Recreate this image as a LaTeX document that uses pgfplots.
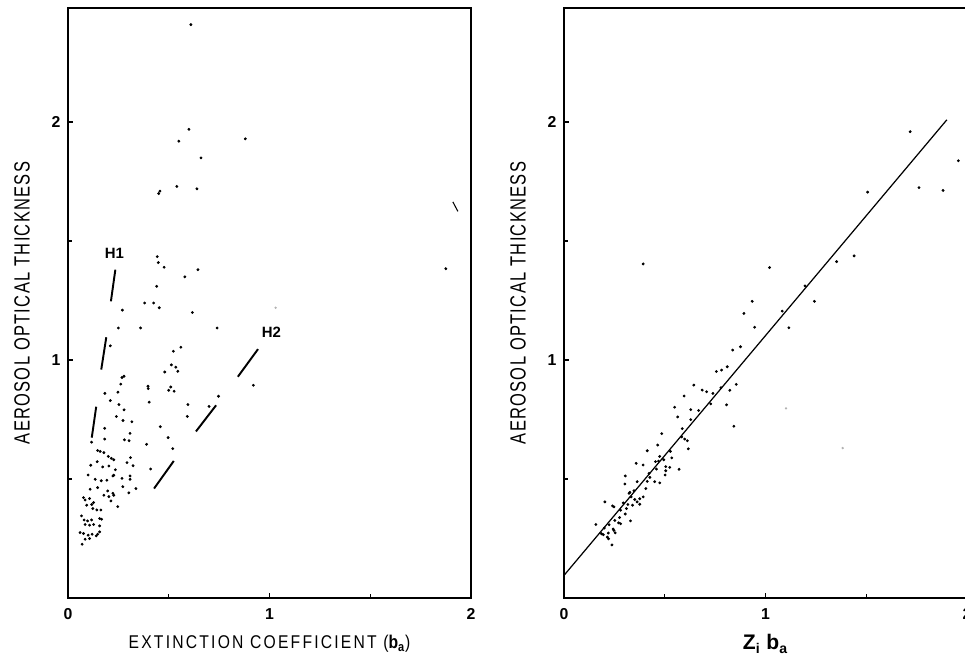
\documentclass[border=0pt]{standalone}
\usepackage{fontspec}
\setmainfont{Liberation Sans}
\newfontfamily\narrowfont[FakeStretch=0.75,LetterSpace=6]{Liberation Sans}
\newfontfamily\labelfont[FakeStretch=0.85,LetterSpace=12]{Liberation Sans}
\usepackage{pgfplots}
\pgfplotsset{compat=1.18}

\pgfplotsset{
  panel/.style={
    scale only axis, width=8.06cm, height=11.8cm,
    xmin=0, xmax=2, ymin=0, ymax=2.48,
    axis line style={line width=0.9pt},
    xtick={0,1,2}, ytick={1,2},
    minor xtick={0.5,1.5}, minor ytick={0.5,1.5},
    tick align=inside, xtick pos=left, ytick pos=left,
    major tick length=0.1cm, minor tick length=0.08cm,
    tick style={line width=0.8pt, black},
    /pgf/number format/assume math mode=true,
    ticklabel style={font=\bfseries\fontsize{9}{10}\selectfont},
    xticklabel style={anchor=center, yshift=-0.32cm},
    yticklabel style={anchor=center, xshift=-0.24cm},
    every axis x label/.style={at={(axis description cs:0.5,0)}, anchor=center, yshift=-0.92cm},
    every axis y label/.style={at={(axis description cs:-0.114,0.5)}, anchor=center, rotate=90},
    ylabel={\narrowfont\fontsize{12.5}{12.5}\selectfont AEROSOL OPTICAL THICKNESS},
  },
  dots/.style={only marks, mark=*, mark size=0.6pt, black},
  dash/.style={black, line width=1.1pt, no marks},
}

\begin{document}
\begin{tikzpicture}
\useasboundingbox (-1.36,-1.24) rectangle (17.94,11.96);
\clip (-1.36,-1.24) rectangle (17.94,11.96);

% left: optical thickness against extinction coefficient
\begin{axis}[panel,
  xlabel={\labelfont\fontsize{10.5}{12}\selectfont EXTINCTION COEFFICIENT ({\bfseries b\textsubscript{a}})}]
\addplot[dots] coordinates {
(0.61,2.41) (0.60,1.97) (0.55,1.92) (0.88,1.93) (0.66,1.85)
(0.456,1.71) (0.45,1.70) (0.54,1.73) (0.64,1.72)
(0.443,1.435) (0.448,1.41) (0.477,1.39) (0.645,1.38) (0.58,1.35) (0.44,1.31)
(0.38,1.24) (0.425,1.24) (0.453,1.22) (0.617,1.20) (0.27,1.21)
(0.25,1.135) (0.36,1.135) (0.74,1.135) (0.21,1.06)
(0.523,1.037) (0.56,1.054)
(0.513,0.98) (0.535,0.97) (0.545,0.953) (0.48,0.95)
(0.268,0.927) (0.278,0.932) (0.262,0.899) (0.183,0.86) (0.248,0.865) (0.21,0.83)
(0.397,0.89) (0.398,0.88) (0.403,0.823)
(0.51,0.887) (0.50,0.873) (0.527,0.869)
(0.595,0.813) (0.592,0.763) (0.70,0.805) (0.747,0.848) (0.92,0.894)
(0.253,0.813) (0.278,0.791) (0.24,0.763) (0.273,0.746) (0.317,0.741)
(0.182,0.713) (0.182,0.668) (0.117,0.655)
(0.28,0.665) (0.303,0.661) (0.308,0.692) (0.458,0.72) (0.39,0.646)
(0.497,0.674) (0.52,0.628)
(0.147,0.62) (0.16,0.616) (0.178,0.611) (0.2,0.595) (0.215,0.587) (0.227,0.581)
(0.145,0.573)
(0.113,0.558) (0.172,0.551) (0.203,0.555) (0.235,0.539) (0.293,0.569) (0.323,0.556) (0.31,0.59)
(0.41,0.542)
(0.1,0.517) (0.135,0.499) (0.165,0.493) (0.193,0.495) (0.223,0.513) (0.227,0.516)
(0.268,0.503) (0.308,0.513) (0.308,0.499) (0.272,0.468) (0.302,0.442) (0.337,0.46)
(0.11,0.457) (0.147,0.464) (0.178,0.432) (0.203,0.426) (0.223,0.44) (0.227,0.432)
(0.197,0.45) (0.213,0.408) (0.247,0.384) (0.163,0.37) (0.127,0.401) (0.143,0.37)
(0.077,0.422) (0.085,0.412) (0.107,0.418) (0.118,0.393) (0.093,0.39) (0.123,0.376)
(0.067,0.345) (0.08,0.328) (0.097,0.324) (0.117,0.328) (0.157,0.334) (0.167,0.331)
(0.085,0.309) (0.107,0.306) (0.127,0.309) (0.06,0.275) (0.077,0.271) (0.1,0.264)
(0.12,0.268) (0.147,0.268) (0.157,0.278) (0.14,0.261) (0.07,0.226) (0.085,0.247)
(0.107,0.25) (0.157,0.303)
(1.875,1.384)
};
\addplot[dots, gray!60, mark size=0.45pt] coordinates {(1.03,1.22)};
\addplot[black, line width=0.6pt, no marks] coordinates {(1.91,1.665) (1.935,1.625)};
% H1 dashes
\addplot[dash] coordinates {(0.118,0.674) (0.14,0.804)};
\addplot[dash] coordinates {(0.165,0.96) (0.19,1.096)};
\addplot[dash] coordinates {(0.213,1.247) (0.235,1.38)};
% H2 dashes
\addplot[dash] coordinates {(0.427,0.46) (0.525,0.576)};
\addplot[dash] coordinates {(0.635,0.70) (0.735,0.81)};
\addplot[dash] coordinates {(0.843,0.93) (0.943,1.046)};
\node[font=\bfseries\fontsize{8.5}{9}\selectfont] at (axis cs:0.23,1.45) {H1};
\node[font=\bfseries\fontsize{8.5}{9}\selectfont] at (axis cs:1.01,1.115) {H2};
\end{axis}

% right: optical thickness against Z_i b_a
\begin{axis}[panel, at={(9.92cm,0)},
  xlabel={\bfseries\fontsize{12}{12}\selectfont Z\textsubscript{i} b\textsubscript{a}}]
\addplot[dots] coordinates {
(1.718,1.96) (1.957,1.838) (1.762,1.725) (1.881,1.713) (1.507,1.706)
(1.44,1.438) (1.353,1.414) (1.02,1.389) (0.393,1.404) (1.196,1.312)
(0.934,1.247) (1.243,1.247) (0.893,1.196) (1.083,1.206) (0.946,1.138) (1.116,1.136)
(0.837,1.042) (0.876,1.056)
(0.756,0.952) (0.782,0.958) (0.81,0.972)
(0.644,0.895) (0.686,0.874) (0.708,0.867) (0.739,0.86) (0.779,0.884) (0.855,0.898)
(0.823,0.873) (0.728,0.816) (0.807,0.812) (0.843,0.722)
(0.596,0.849) (0.549,0.802) (0.629,0.792) (0.668,0.788) (0.564,0.761) (0.629,0.75)
(0.587,0.712) (0.584,0.677) (0.599,0.668) (0.612,0.661) (0.617,0.627) (0.485,0.691)
(0.465,0.643) (0.413,0.619) (0.528,0.616) (0.475,0.595) (0.495,0.581) (0.535,0.589)
(0.505,0.552) (0.505,0.535) (0.525,0.549) (0.502,0.517) (0.571,0.541) (0.469,0.575)
(0.358,0.566) (0.393,0.559) (0.454,0.573) (0.459,0.542) (0.422,0.524) (0.426,0.507)
(0.45,0.489) (0.475,0.484) (0.406,0.46) (0.393,0.425) (0.376,0.394) (0.363,0.489) (0.413,0.49)
(0.304,0.513) (0.302,0.479) (0.327,0.444) (0.347,0.451) (0.323,0.44) (0.333,0.425)
(0.351,0.414) (0.34,0.39) (0.363,0.404) (0.376,0.417) (0.317,0.393) (0.31,0.376)
(0.294,0.4) (0.304,0.353) (0.33,0.324) (0.281,0.369) (0.248,0.383) (0.241,0.387)
(0.203,0.404) (0.276,0.338)
(0.158,0.309) (0.2,0.294) (0.224,0.308) (0.252,0.326) (0.271,0.316) (0.281,0.312)
(0.244,0.29) (0.254,0.274) (0.22,0.273) (0.186,0.27) (0.215,0.256) (0.221,0.249)
(0.238,0.223) (0.195,0.266) (0.248,0.284)
};
\addplot[dots, gray!60, mark size=0.45pt] coordinates {(1.102,0.797) (1.383,0.63)};
% fitted line
\addplot[black, line width=0.7pt, no marks] coordinates {(0,0.095) (1.90,2.01)};
\end{axis}
\end{tikzpicture}
\end{document}
